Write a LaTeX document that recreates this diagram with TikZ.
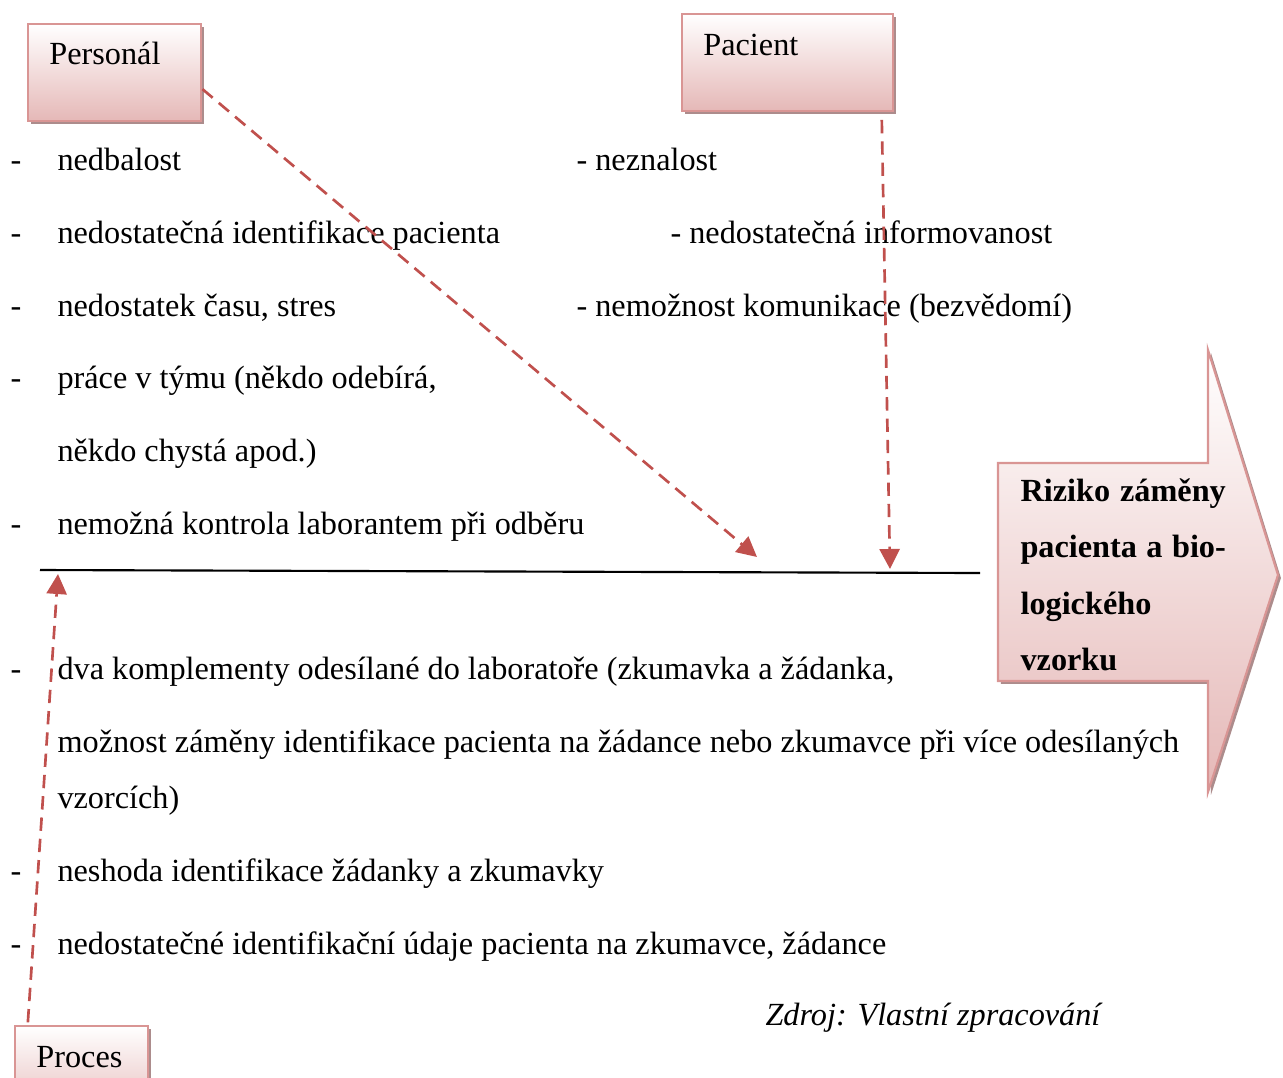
\documentclass[tikz,border=0pt]{standalone}
\usepackage{fontspec}
\setmainfont{Liberation Serif}
\usetikzlibrary{arrows.meta,shadows,positioning}
\definecolor{boxEdge}{RGB}{217,149,148}
\definecolor{boxFill}{RGB}{229,184,183}
\definecolor{boxShade}{RGB}{172,140,140}
\definecolor{feedRed}{RGB}{192,80,77}

\begin{document}
\begin{tikzpicture}[x=0.375pt,y=-0.375pt,
  catbox/.style={draw=boxEdge,line width=0.8pt,top color=white,bottom color=boxFill,
    drop shadow={shadow xshift=1.1pt,shadow yshift=-1.1pt,fill=boxShade,opacity=1},
    anchor=north west,align=left,inner xsep=8pt,inner ysep=0pt,
    font=\fontsize{12.1}{14}\selectfont},
  cause/.style={anchor=base west,inner sep=0pt,font=\fontsize{12.1}{14}\selectfont},
  feed/.style={feedRed,line width=1pt,dash pattern=on 5pt off 3pt,
    -{Triangle[length=7.5pt,width=7.5pt]}}]
  \useasboundingbox (0,0) rectangle (1283,1077);
  % category boxes
  \node[catbox,text width=49pt,text height=15pt,text depth=21.4pt] (pers) at (27,23) {Personál};
  \node[catbox,text width=63pt,text height=15.7pt,text depth=20.6pt] (pac) at (681,13) {Pacient};
  \node[catbox,text width=34pt,text height=15.7pt,text depth=20pt] (proc) at (14,1025) {Proces};
  % result arrow
  \path[draw=boxEdge,line width=0.8pt,top color=white,bottom color=boxFill,
    drop shadow={shadow xshift=1.1pt,shadow yshift=-1.1pt,fill=boxShade,opacity=1}]
    (998,463) -- (1208,463) -- (1208,350) -- (1278,575) -- (1208,792)
    -- (1208,681) -- (998,681) -- cycle;
  \node[anchor=north west,inner sep=0pt,text width=77pt,align=left,
    font=\bfseries\fontsize{12.1}{21.2}\selectfont] (goal) at (1020,478)
    {Riziko\hfill záměny\\pacienta\hfill a\hfill bio-\\logického\\vzorku};
  % spine
  \coordinate (spL) at (40,570);
  \coordinate (spR) at (980,573);
  \draw[line width=0.8pt] (spL) -- (spR);
  % personal causes
  \foreach \yy/\txt [count=\i] in {170/nedbalost,
      243/nedostatečná identifikace pacienta,
      316/{nedostatek času, stres},
      388/{práce v týmu (někdo odebírá,},
      534/nemožná kontrola laborantem při odběru}{
    \node[cause] (dp\i) at (10,\yy) {-};
    \node[cause] (tp\i) at (57,\yy) {\txt};
  }
  \node[cause] (tp6) at (57,461) {někdo chystá apod.)};
  % patient causes
  \node[cause] (tq1) at (576,170) {- neznalost};
  \node[cause] (tq2) at (670,243) {- nedostatečná informovanost};
  \node[cause] (tq3) at (576,316) {- nemožnost komunikace (bezvědomí)};
  % process causes
  \node[cause] (dr1) at (10,679) {-};
  \node[cause] (tr1) at (57,679) {dva komplementy odesílané do laboratoře (zkumavka a žádanka,};
  \node[cause] (tr2) at (57,752) {možnost záměny identifikace pacienta na žádance nebo zkumavce při více odesílaných};
  \node[cause] (tr3) at (57,808) {vzorcích)};
  \node[cause] (dr4) at (10,881) {-};
  \node[cause] (tr4) at (57,881) {neshoda identifikace žádanky a zkumavky};
  \node[cause] (dr5) at (10,954) {-};
  \node[cause] (tr5) at (57,954) {nedostatečné identifikační údaje pacienta na zkumavce, žádance};
  \node[cause,font=\itshape\fontsize{12.1}{14}\selectfont] (src) at (765,1025) {Zdroj: Vlastní zpracování};
  % feeds
  \coordinate (hitP) at (757,557);
  \coordinate (hitQ) at (890,569);
  \coordinate (hitR) at (58,574);
  \draw[feed] ([yshift=-6.2pt]pers.east) -- (hitP);
  \draw[feed] ([xshift=-4.5pt,yshift=-3pt]pac.south east) -- (hitQ);
  \draw[feed] ([xshift=5.2pt,yshift=1pt]proc.north west) -- (hitR);
\end{tikzpicture}
\end{document}
